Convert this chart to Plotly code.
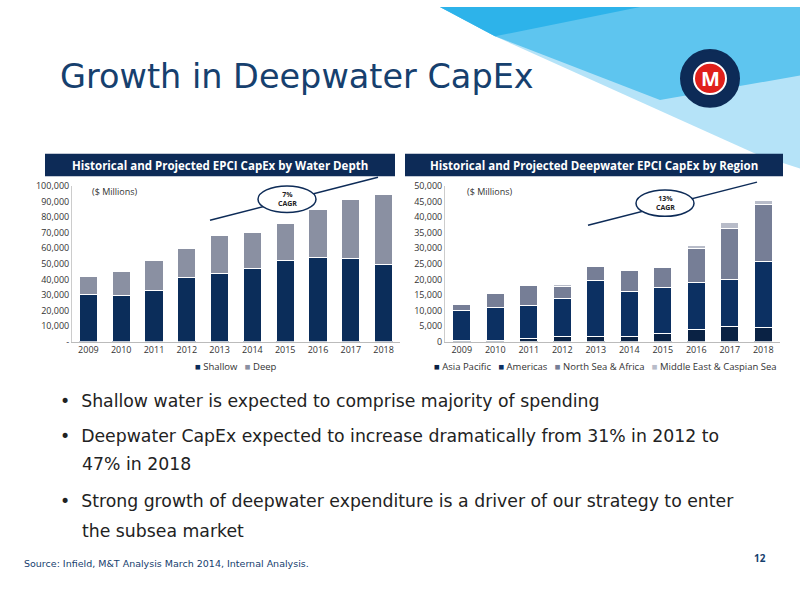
import plotly.graph_objects as go

years = ["2009","2010","2011","2012","2013","2014","2015","2016","2017","2018"]
shallow = [30000,29500,33000,41000,44000,47000,52000,54000,53500,49500]
deep = [12000,15500,19000,19000,24500,23000,24000,31000,38000,45000]

asia = [500,500,1000,1700,1500,1700,2500,4000,5000,4500]
americas = [9500,10500,10500,12300,18000,14300,15000,15000,14800,21200]
northsea = [2000,4500,6500,3700,4500,7000,6300,11000,16500,18300]
mideast = [0,0,500,800,0,0,200,1000,2000,1200]

NAVY = "#0b2d5a"
left_series = [(shallow, "Shallow", NAVY), (deep, "Deep", "#8a90a2")]
right_series = [(asia,"Asia Pacific","#0a2244"),(americas,"Americas","#0c3062"),
                (northsea,"North Sea & Africa","#767e96"),(mideast,"Middle East & Caspian Sea","#b8bcc9")]
fig = go.Figure()
for vals, nm, c in left_series:
    fig.add_bar(x=years, y=vals, name=nm, marker_color=c, xaxis="x", yaxis="y")
for vals, nm, c in right_series:
    fig.add_bar(x=years, y=vals, name=nm, marker_color=c, xaxis="x2", yaxis="y2")
fig.update_traces(marker_line_color="white", marker_line_width=1, showlegend=False)

def px(x): return x/800
def py(y): return 1-y/600
tickf = dict(size=9, color="#333", family="Open Sans")
fig.update_layout(
    autosize=True, margin=dict(l=0,r=0,t=0,b=0), barmode="stack", bargap=0.45,
    plot_bgcolor="rgba(0,0,0,0)", paper_bgcolor="white", showlegend=False,
    xaxis=dict(domain=[px(72),px(400)], tickfont=tickf, showline=True, linecolor="#bbb", ticks=""),
    yaxis=dict(domain=[py(342),py(183)], range=[0,100000], tickfont=tickf,
               showgrid=False, showline=True, linecolor="#ccc", tickvals=list(range(0,100001,10000)),
               ticktext=["-"]+[f"{v:,}" for v in range(10000,100001,10000)]),
    xaxis2=dict(domain=[px(445),px(780)], tickfont=tickf, showline=True, linecolor="#bbb", anchor="y2"),
    yaxis2=dict(domain=[py(342),py(183)], range=[0,50000], dtick=5000, tickformat=",", tickfont=tickf,
                showgrid=False, showline=True, linecolor="#ccc", anchor="x2"),
    font=dict(family="Open Sans"),
)
shapes = [
    dict(type="path", path="M 440 0 L 800 0 L 800 165 L 760 152 L 495 30 Z", fillcolor="#b5e3f8", line_width=0),
    dict(type="path", path="M 440 0 L 800 0 L 800 70 L 660 95 L 495 30 Z", fillcolor="#5ec5ef", line_width=0),
    dict(type="path", path="M 440 0 L 640 0 L 495 30 Z", fillcolor="#2db3ea", line_width=0),
    dict(type="rect", x0=45, x1=395, y0=150, y1=173, fillcolor="#0d2b57", line_width=0),
    dict(type="rect", x0=405, x1=783, y0=150, y1=173, fillcolor="#0d2b57", line_width=0),
    dict(type="circle", x0=681, x1=739, y0=44, y1=102, fillcolor="#0d2b57", line=dict(color="#0d2b57")),
    dict(type="circle", x0=694, x1=726, y0=57, y1=89, fillcolor="#e0201b", line=dict(color="white", width=2)),
    dict(type="line", x0=210, y0=218, x1=378, y1=174, line=dict(color="#0d2b57", width=1.5)),
    dict(type="line", x0=588, y0=223, x1=757, y1=179, line=dict(color="#0d2b57", width=1.5)),
    dict(type="circle", x0=258, x1=316, y0=183, y1=210, fillcolor="white", line=dict(color="#0d2b57", width=1.5)),
    dict(type="circle", x0=636, x1=694, y0=187, y1=214, fillcolor="white", line=dict(color="#0d2b57", width=1.5)),
]
for s in shapes:
    s.update(xref="paper", yref="paper")
    if s["type"] == "path":
        toks = s["path"].split()
        out = []; i = 0
        while i < len(toks):
            t = toks[i]
            if t in "MLZ":
                out.append(t); i += 1
            else:
                out.append(f"{px(float(t)):.4f},{py(float(toks[i+1])):.4f}"); i += 2
        s["path"] = " ".join(out)
    else:
        s["x0"], s["x1"] = px(s["x0"]), px(s["x1"])
        s["y0"], s["y1"] = py(s["y0"]), py(s["y1"])
    s["layer"] = "below" if s["type"] == "path" else "above"
fig.update_layout(shapes=shapes)

def ann(x, y, text, size, color="#333", bold=False, xanchor="left", family="Open Sans"):
    if bold: text = f"<b>{text}</b>"
    fig.add_annotation(x=px(x), y=py(y), xref="paper", yref="paper", text=text, showarrow=False,
                       xanchor=xanchor, yanchor="middle", font=dict(size=size, color=color, family=family))

def legend_text(series):
    return "   ".join(f"<span style='color:{c}'>■</span> {nm}" for _, nm, c in series)
ann(236, 367, legend_text(left_series), 9.5, "#333", xanchor="center")
ann(605, 367, legend_text(right_series), 9.5, "#333", xanchor="center")

BF = "DejaVu Sans"
ann(58, 71, "Growth in Deepwater CapEx", 33.5, "#16406e", family=BF)
ann(220, 162, "Historical and Projected EPCI CapEx by Water Depth", 11.5, "white", True, "center")
ann(594, 162, "Historical and Projected Deepwater EPCI CapEx by Region", 11.5, "white", True, "center")
ann(90, 189, "($ Millions)", 9)
ann(465, 189, "($ Millions)", 9)
ann(287, 196, "7%<br>CAGR", 7, "#222", True, "center")
ann(665, 200, "13%<br>CAGR", 7, "#222", True, "center")
ann(710, 73, "M", 20, "white", True, "center")
ann(58, 403, "•  Shallow water is expected to comprise majority of spending", 17.3, "#222", family=BF)
ann(58, 438, "•  Deepwater CapEx expected to increase dramatically from 31% in 2012 to", 17.3, "#222", family=BF)
ann(80, 467, "47% in 2018", 17.3, "#222", family=BF)
ann(58, 505, "•  Strong growth of deepwater expenditure is a driver of our strategy to enter", 17.3, "#222", family=BF)
ann(80, 536, "the subsea market", 17.3, "#222", family=BF)
ann(22, 569, "Source: Infield, M&T Analysis March 2014, Internal Analysis.", 9.5, "#16406e", family=BF)
ann(768, 563, "12", 10, "#16406e", True, "right")
fig.write_html("out.html", default_width="100vw", default_height="100vh",
               config={"displayModeBar": False},
               post_script="document.body.style.margin='0';document.body.style.overflow='hidden';")
